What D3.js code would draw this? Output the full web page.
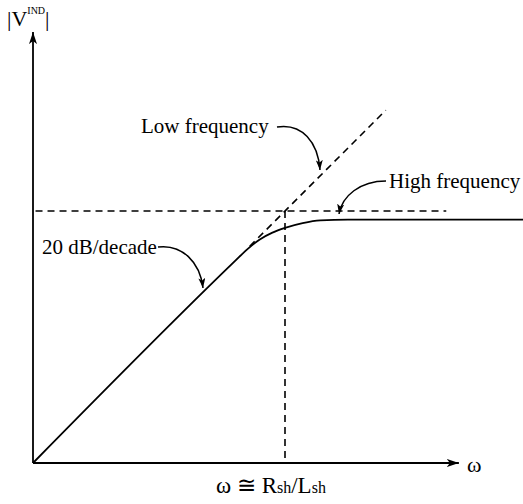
<!DOCTYPE html>
<html>
<head>
<meta charset="utf-8">
<script src="https://cdn.jsdelivr.net/npm/d3@7"></script>
<style>
  body { margin: 0; background: #fff; }
  svg { display: block; }
  text { font-family: "Liberation Serif", "DejaVu Serif", serif; fill: #000; }
</style>
</head>
<body>
<div id="chart"></div>
<script>
// ---- data (frequency in units of the corner R_sh/L_sh, magnitude in units of the plateau) ----
var responseW   = [0, 0.80, 0.85, 0.90, 0.95, 1.00, 1.07, 1.14, 1.25, 1.95];
var responseMag = [0, 0.80, 0.848, 0.887, 0.914, 0.933, 0.952, 0.963, 0.966, 0.966];

var lowFreqW   = [0.86, 1.40];
var lowFreqMag = [0.86, 1.40];

var highFreqW   = [0.01, 1.64];
var highFreqMag = [1, 1];

var cornerW = 1;
var axisMax = { w: 1.69, mag: 1.71 };

// ---- layout ----
var width = 523, height = 504;

var x = d3.scaleLinear().domain([0, 1]).range([33, 285]);
var y = d3.scaleLinear().domain([0, 1]).range([463, 211]);

var svg = d3.select("#chart")
	.append("svg")
	.attr("width", width)
	.attr("height", height);

// arrowhead markers
var defs = svg.append("defs");
defs.append("marker")
	.attr("id", "axisHead")
	.attr("viewBox", "0 0 12 8")
	.attr("refX", 12).attr("refY", 4)
	.attr("markerWidth", 12).attr("markerHeight", 8)
	.attr("markerUnits", "userSpaceOnUse")
	.attr("orient", "auto")
	.append("path")
	.attr("d", "M0,0 L12,4 L0,8 L3,4 Z")
	.attr("fill", "#000");
defs.append("marker")
	.attr("id", "noteHead")
	.attr("viewBox", "0 0 10 7")
	.attr("refX", 10).attr("refY", 3.5)
	.attr("markerWidth", 10).attr("markerHeight", 7)
	.attr("markerUnits", "userSpaceOnUse")
	.attr("orient", "auto")
	.append("path")
	.attr("d", "M0,0 L10,3.5 L0,7 L2.5,3.5 Z")
	.attr("fill", "#000");

// axes
svg.append("line")
	.attr("x1", x(0)).attr("y1", y(0))
	.attr("x2", x(0)).attr("y2", y(axisMax.mag))
	.attr("stroke", "#000").attr("stroke-width", 1.8)
	.attr("marker-end", "url(#axisHead)");
svg.append("line")
	.attr("x1", x(0)).attr("y1", y(0))
	.attr("x2", x(axisMax.w)).attr("y2", y(0))
	.attr("stroke", "#000").attr("stroke-width", 1.8)
	.attr("marker-end", "url(#axisHead)");

// dashed asymptotes and corner line
var dash = "7,5";
svg.append("line")
	.attr("x1", x(highFreqW[0])).attr("y1", y(highFreqMag[0]))
	.attr("x2", x(highFreqW[1])).attr("y2", y(highFreqMag[1]))
	.attr("stroke", "#000").attr("stroke-width", 1.6)
	.attr("stroke-dasharray", dash);
svg.append("line")
	.attr("x1", x(lowFreqW[0])).attr("y1", y(lowFreqMag[0]))
	.attr("x2", x(lowFreqW[1])).attr("y2", y(lowFreqMag[1]))
	.attr("stroke", "#000").attr("stroke-width", 1.6)
	.attr("stroke-dasharray", dash);
svg.append("line")
	.attr("x1", x(cornerW)).attr("y1", y(1))
	.attr("x2", x(cornerW)).attr("y2", y(0))
	.attr("stroke", "#000").attr("stroke-width", 1.6)
	.attr("stroke-dasharray", dash);

// response curve
var curve = d3.line()
	.x(function(d) { return x(d[0]); })
	.y(function(d) { return y(d[1]); })
	.curve(d3.curveMonotoneX);
svg.append("path")
	.datum(d3.zip(responseW, responseMag))
	.attr("d", curve)
	.attr("fill", "none")
	.attr("stroke", "#000")
	.attr("stroke-width", 1.8);

// axis labels
var yLab = svg.append("text").attr("x", 7).attr("y", 26).attr("font-size", 22);
yLab.append("tspan").text("|V");
yLab.append("tspan").attr("font-size", 10).attr("dy", -12).text("IND");
yLab.append("tspan").attr("dy", 12).text("|");

svg.append("text")
	.attr("x", x(axisMax.w) + 8).attr("y", y(0) + 9)
	.attr("font-size", 22)
	.text("ω");

var cLab = svg.append("text").attr("x", 216).attr("y", 493).attr("font-size", 23);
cLab.append("tspan").text("ω ≅ R");
cLab.append("tspan").attr("font-size", 16).text("sh");
cLab.append("tspan").text("/L");
cLab.append("tspan").attr("font-size", 16).text("sh");

// annotations with curved arrows
var notes = [
	{ label: "Low frequency",  tx: 141, ty: 133, path: "M277,127 C302,123 318,142 320,170" },
	{ label: "High frequency", tx: 389, ty: 188, path: "M386,181 C360,181 342,196 339,214" },
	{ label: "20 dB/decade",   tx: 42,  ty: 254, path: "M158,247 C182,244 200,262 203,288" }
];
var note = svg.selectAll(".note")
	.data(notes)
	.enter()
	.append("g")
	.attr("class", "note");
note.append("text")
	.attr("x", function(d) { return d.tx; })
	.attr("y", function(d) { return d.ty; })
	.attr("font-size", 21)
	.text(function(d) { return d.label; });
note.append("path")
	.attr("d", function(d) { return d.path; })
	.attr("fill", "none")
	.attr("stroke", "#000")
	.attr("stroke-width", 1.5)
	.attr("marker-end", "url(#noteHead)");
</script>
</body>
</html>
